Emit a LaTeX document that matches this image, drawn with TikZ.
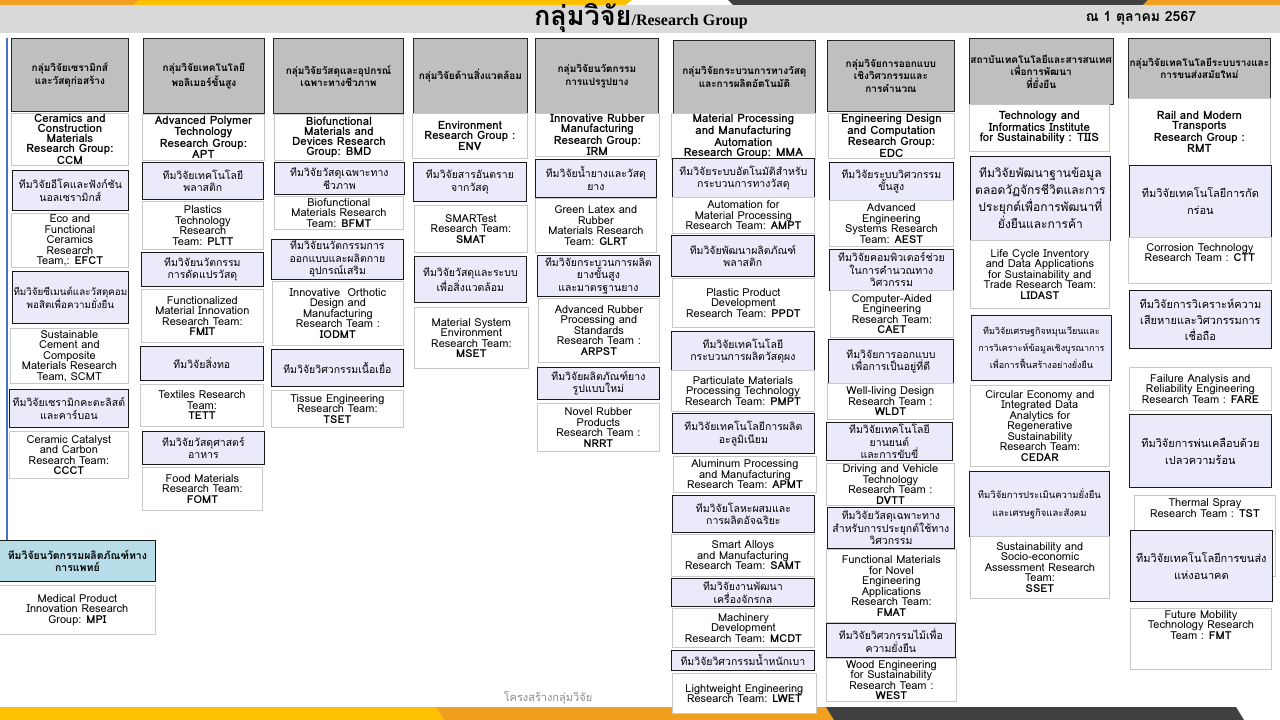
\documentclass[tikz,border=0pt]{standalone}
\usepackage{fontspec}
\newfontfamily\thaif[Script=Thai]{Loma}
\newfontfamily\latf{Loma}
\newfontfamily\serifb{Liberation Serif}
\usetikzlibrary{positioning}
\definecolor{headgray}{RGB}{191,191,191}
\definecolor{lav}{RGB}{234,234,250}
\definecolor{mpiblue}{RGB}{183,222,232}
\definecolor{bandgray}{RGB}{217,217,217}
\definecolor{boxline}{RGB}{200,200,200}
\definecolor{lineblue}{RGB}{68,114,196}
\definecolor{barorange}{RGB}{240,160,30}
\definecolor{baryellow}{RGB}{255,192,0}
\definecolor{bardark}{RGB}{64,64,64}

\begin{document}
\begin{tikzpicture}[x=1pt, y=-1pt,
    sz/.style 2 args={minimum width=#1pt, minimum height=#2pt},
    box/.style={rectangle, anchor=north west, align=center, inner sep=1pt, line width=0.8pt},
    head/.style={box, draw=black!85, fill=headgray, font=\thaif\bfseries\fontsize{10}{12.5}\selectfont},
    grp/.style={box, draw=boxline, fill=white, font=\latf\bfseries\fontsize{11.5}{10}\selectfont},
    team/.style={box, draw=black!90, fill=lav, font=\thaif\fontsize{10.5}{12.5}\selectfont},
    eng/.style={box, draw=boxline, fill=white, font=\latf\fontsize{11}{10.5}\selectfont},
  ]
    \useasboundingbox (0,0) rectangle (1280,720);
    \fill[white] (0,0) rectangle (1280,720);

    % top strip and title band
    \fill[barorange] (0,0) -- (140,0) -- (132,6) -- (0,6) -- cycle;
    \fill[baryellow] (140,0) -- (632,0) -- (624,6) -- (132,6) -- cycle;
    \fill[bardark] (728,0) -- (1148,0) -- (1142,6) -- (734,6) -- cycle;
    \fill[barorange] (1148,0) -- (1280,0) -- (1280,6) -- (1142,6) -- cycle;
    \fill[bandgray] (0,5) rectangle (1280,33);
    \node (title) at (641,18) {{\thaif\bfseries\fontsize{27}{27}\selectfont กลุ่มวิจัย}{\serifb\bfseries\fontsize{16}{16}\selectfont /Research Group}};
    \node[font=\thaif\bfseries\fontsize{14}{14}\selectfont] (date) at (1141,18) {ณ 1 ตุลาคม 2567};

    % bottom strip
    \fill[baryellow] (0,707) -- (436,707) -- (444,720) -- (0,720) -- cycle;
    \fill[barorange] (436,707) -- (826,707) -- (834,720) -- (444,720) -- cycle;
    \fill[bardark] (826,707) -- (1236,707) -- (1244,720) -- (834,720) -- cycle;
    \node[font=\thaif\fontsize{11}{11}\selectfont, text=black!45] (foot) at (548,698) {โครงสร้างกลุ่มวิจัย};

    % ceramics
    \node[head, sz={117}{73}] (h1) at (11,38) {กลุ่มวิจัยเซรามิกส์\\และวัสดุก่อสร้าง};
    \node[grp, sz={117}{50}] (g1) at (11,113) {Ceramics and\\Construction\\Materials\\Research Group:\\CCM};
    \node[team, sz={116}{40}] (efctth) at (12,170) {ทีมวิจัยอีโคและฟังก์ชัน\\นอลเซรามิกส์};
    \node[eng, sz={117}{54}] (efct) at (11,213) {Eco and\\Functional\\Ceramics\\Research\\Team,: \textbf{EFCT}};
    \node[team, font=\thaif\fontsize{9.8}{13}\selectfont, sz={116}{52}] (scmtth) at (12,271) {ทีมวิจัยซีเมนต์และวัสดุคอม\\พอสิตเพื่อความยั่งยืน};
    \node[eng, sz={118}{55}] (scmt) at (10,328) {Sustainable\\Cement and\\Composite\\Materials Research\\Team, SCMT};
    \node[team, sz={119}{38}] (ccctth) at (9,389) {ทีมวิจัยเซรามิกคะตะลิสต์\\และคาร์บอน};
    \node[eng, sz={119}{47}] (ccct) at (9,431) {Ceramic Catalyst\\and Carbon\\Research Team:\\\textbf{CCCT}};
    \node[team, fill=mpiblue, font=\thaif\bfseries\fontsize{10.5}{12.5}\selectfont, sz={156}{41}] (mpith) at (-1,540) {ทีมวิจัยนวัตกรรมผลิตภัณฑ์ทาง\\การแพทย์};
    \node[eng, sz={156}{49}] (mpi) at (-1,585) {Medical Product\\Innovation Research\\Group: \textbf{MPI}};
    \coordinate (ltop) at (7,38);
    \draw[lineblue, line width=2pt] (ltop) -- (ltop |- mpith.north);

    % polymer
    \node[head, sz={121}{75}] (h2) at (143,38) {กลุ่มวิจัยเทคโนโลยี\\พอลิเมอร์ขั้นสูง};
    \node[grp, sz={122}{46}] (g2) at (142,114) {Advanced Polymer\\Technology\\Research Group:\\APT};
    \node[team, sz={121}{37}] (plttth) at (142,162) {ทีมวิจัยเทคโนโลยี\\พลาสติก};
    \node[eng, sz={121}{48}] (pltt) at (142,201) {Plastics\\Technology\\Research\\Team: \textbf{PLTT}};
    \node[team, sz={122}{34}] (fmitth) at (141,252) {ทีมวิจัยนวัตกรรม\\การดัดแปรวัสดุ};
    \node[eng, sz={122}{53}] (fmit) at (141,289) {Functionalized\\Material Innovation\\Research Team:\\\textbf{FMIT}};
    \node[team, sz={123}{34}] (tettth) at (140,346) {ทีมวิจัยสิ่งทอ};
    \node[eng, sz={123}{42}] (tett) at (140,384) {Textiles Research\\Team:\\\textbf{TETT}};
    \node[team, sz={122}{33}] (fomtth) at (142,431) {ทีมวิจัยวัสดุศาสตร์\\อาหาร};
    \node[eng, sz={120}{43}] (fomt) at (142,467) {Food Materials\\Research Team:\\\textbf{FOMT}};

    % biofunctional
    \node[head, sz={130}{75}] (h3) at (273,38) {กลุ่มวิจัยวัสดุและอุปกรณ์\\เฉพาะทางชีวภาพ};
    \node[grp, sz={129}{46}] (g3) at (274,114) {Biofunctional\\Materials and\\Devices Research\\Group: BMD};
    \node[team, sz={130}{32}] (bfmtth) at (274,162) {ทีมวิจัยวัสดุเฉพาะทาง\\ชีวภาพ};
    \node[eng, sz={129}{33}] (bfmt) at (274,196) {Biofunctional\\Materials Research\\Team: \textbf{BFMT}};
    \node[team, sz={132}{40}] (iodmtth) at (271,239) {ทีมวิจัยนวัตกรรมการ\\ออกแบบและผลิตกาย\\อุปกรณ์เสริม};
    \node[eng, sz={131}{64}] (iodmt) at (272,281) {Innovative~~Orthotic\\Design and\\Manufacturing\\Research Team :\\\textbf{IODMT}};
    \node[team, sz={132}{37}] (tsetth) at (271,349) {ทีมวิจัยวิศวกรรมเนื้อเยื่อ};
    \node[eng, sz={132}{37}] (tset) at (271,390) {Tissue Engineering\\Research Team:\\\textbf{TSET}};

    % environment
    \node[head, sz={114}{75}] (h4) at (413,38) {กลุ่มวิจัยด้านสิ่งแวดล้อม};
    \node[grp, sz={115}{45}] (g4) at (412,113) {Environment\\Research Group :\\ENV};
    \node[team, sz={113}{39}] (smatth) at (413,162) {ทีมวิจัยสารอันตราย\\จากวัสดุ};
    \node[eng, sz={113}{47}] (smat) at (414,205) {SMARTest\\Research Team:\\\textbf{SMAT}};
    \node[team, sz={112}{46}] (msetth) at (414,256) {ทีมวิจัยวัสดุและระบบ\\เพื่อสิ่งแวดล้อม};
    \node[eng, sz={114}{61}] (mset) at (414,307) {Material System\\Environment\\Research Team:\\\textbf{MSET}};

    % rubber
    \node[head, sz={123}{75}] (h5) at (535,38) {กลุ่มวิจัยนวัตกรรม\\การแปรรูปยาง};
    \node[grp, sz={124}{40}] (g5) at (535,113) {Innovative Rubber\\Manufacturing\\Research Group:\\IRM};
    \node[team, sz={121}{38}] (glrtth) at (535,159) {ทีมวิจัยน้ำยางและวัสดุ\\ยาง};
    \node[eng, sz={121}{54}] (glrt) at (535,198) {Green Latex and\\Rubber\\Materials Research\\Team: \textbf{GLRT}};
    \node[team, sz={122}{41}] (arpstth) at (537,255) {ทีมวิจัยกระบวนการผลิต\\ยางขั้นสูง\\และมาตรฐานยาง};
    \node[eng, sz={121}{64}] (arpst) at (538,298) {Advanced Rubber\\Processing and\\Standards\\Research Team :\\\textbf{ARPST}};
    \node[team, sz={122}{32}] (nrrtth) at (537,367) {ทีมวิจัยผลิตภัณฑ์ยาง\\รูปแบบใหม่};
    \node[eng, sz={122}{48}] (nrrt) at (537,403) {Novel Rubber\\Products\\Research Team :\\\textbf{NRRT}};

    % processing and automation
    \node[head, sz={142}{73}] (h6) at (673,40) {กลุ่มวิจัยกระบวนการทางวัสดุ\\และการผลิตอัตโนมัติ};
    \node[grp, sz={144}{42}] (g6) at (671,113) {Material Processing\\and Manufacturing\\Automation\\Research Group: MMA};
    \node[team, sz={142}{39}] (ampttth) at (672,158) {ทีมวิจัยระบบอัตโนมัติสำหรับ\\กระบวนการทางวัสดุ};
    \node[eng, sz={142}{36}] (ampt) at (672,197) {Automation for\\Material Processing\\Research Team: \textbf{AMPT}};
    \node[team, sz={143}{41}] (ppdtth) at (671,235) {ทีมวิจัยพัฒนาผลิตภัณฑ์\\พลาสติก};
    \node[eng, sz={142}{49}] (ppdt) at (672,278) {Plastic Product\\Development\\Research Team: \textbf{PPDT}};
    \node[team, sz={143}{39}] (pmptth) at (671,331) {ทีมวิจัยเทคโนโลยี\\กระบวนการผลิตวัสดุผง};
    \node[eng, sz={143}{41}] (pmpt) at (671,370) {Particulate Materials\\Processing Technology\\Research Team: \textbf{PMPT}};
    \node[team, sz={142}{40}] (apmtth) at (672,413) {ทีมวิจัยเทคโนโลยีการผลิต\\อะลูมิเนียม};
    \node[eng, sz={143}{36}] (apmt) at (673,456) {Aluminum Processing\\and Manufacturing\\Research Team: \textbf{APMT}};
    \node[team, sz={142}{37}] (samtth) at (672,495) {ทีมวิจัยโลหะผสมและ\\การผลิตอัจฉริยะ};
    \node[eng, sz={143}{42}] (samt) at (671,534) {Smart Alloys\\and Manufacturing\\Research Team: \textbf{SAMT}};
    \node[team, sz={143}{28}] (mcdtth) at (671,578) {ทีมวิจัยงานพัฒนา\\เครื่องจักรกล};
    \node[eng, sz={142}{39}] (mcdt) at (672,608) {Machinery\\Development\\Research Team: \textbf{MCDT}};
    \node[team, sz={143}{20}] (lwetth) at (671,650) {ทีมวิจัยวิศวกรรมน้ำหนักเบา};
    \node[eng, sz={144}{40}] (lwet) at (672,673) {Lightweight Engineering\\Research Team: \textbf{LWET}};

    % design and computation
    \node[head, sz={127}{71}] (h7) at (827,40) {กลุ่มวิจัยการออกแบบ\\เชิงวิศวกรรมและ\\การคำนวณ};
    \node[grp, sz={126}{44}] (g7) at (828,113) {Engineering Design\\and Computation\\Research Group:\\EDC};
    \node[team, sz={124}{38}] (aestth) at (829,162) {ทีมวิจัยระบบวิศวกรรม\\ขั้นสูง};
    \node[eng, sz={124}{46}] (aest) at (829,200) {Advanced\\Engineering\\Systems Research\\Team: \textbf{AEST}};
    \node[team, sz={124}{41}] (caetth) at (829,249) {ทีมวิจัยคอมพิวเตอร์ช่วย\\ในการคำนวณทาง\\วิศวกรรม};
    \node[eng, sz={123}{47}] (caet) at (830,290) {Computer-Aided\\Engineering\\Research Team:\\\textbf{CAET}};
    \node[team, sz={125}{44}] (wldtth) at (828,339) {ทีมวิจัยการออกแบบ\\เพื่อการเป็นอยู่ที่ดี};
    \node[eng, sz={126}{36}] (wldt) at (827,383) {Well-living Design\\Research Team :\\\textbf{WLDT}};
    \node[team, sz={126}{38}] (dvttth) at (826,422) {ทีมวิจัยเทคโนโลยี\\ยานยนต์\\และการขับขี่};
    \node[eng, sz={128}{42}] (dvtt) at (826,463) {Driving and Vehicle\\Technology\\Research Team :\\\textbf{DVTT}};
    \node[team, sz={127}{41}] (fmatth) at (827,507) {ทีมวิจัยวัสดุเฉพาะทาง\\สำหรับการประยุกต์ใช้ทาง\\วิศวกรรม};
    \node[eng, sz={130}{73}] (fmat) at (826,549) {Functional Materials\\for Novel\\Engineering\\Applications\\Research Team:\\\textbf{FMAT}};
    \node[team, sz={129}{34}] (westth) at (826,623) {ทีมวิจัยวิศวกรรมไม้เพื่อ\\ความยั่งยืน};
    \node[eng, sz={130}{43}] (west) at (826,658) {Wood Engineering\\for Sustainability\\Research Team :\\\textbf{WEST}};

    % sustainability institute
    \node[head, sz={139}{66}] (h8) at (969,38) {สถาบันเทคโนโลยีและสารสนเทศ\\เพื่อการพัฒนา\\ที่ยั่งยืน};
    \node[grp, sz={140}{47}] (g8) at (969,104) {Technology and\\Informatics Institute\\for Sustainability : TIIS};
    \node[team, font=\thaif\fontsize{12}{17}\selectfont, sz={140}{84}] (lidastth) at (970,156) {ทีมวิจัยพัฒนาฐานข้อมูล\\ตลอดวัฏจักรชีวิตและการ\\ประยุกต์เพื่อการพัฒนาที่\\ยั่งยืนและการค้า};
    \node[eng, sz={139}{68}] (lidast) at (970,240) {Life Cycle Inventory\\and Data Applications\\for Sustainability and\\Trade Research Team:\\\textbf{LIDAST}};
    \node[team, font=\thaif\fontsize{9}{17}\selectfont, sz={140}{65}] (cedarth) at (971,315) {ทีมวิจัยเศรษฐกิจหมุนเวียนและ\\การวิเคราะห์ข้อมูลเชิงบูรณาการ\\เพื่อการฟื้นสร้างอย่างยั่งยืน};
    \node[eng, sz={139}{81}] (cedar) at (970,385) {Circular Economy and\\Integrated Data\\Analytics for\\Regenerative\\Sustainability\\Research Team:\\\textbf{CEDAR}};
    \node[team, font=\thaif\fontsize{9.5}{18}\selectfont, sz={140}{65}] (ssetth) at (969,471) {ทีมวิจัยการประเมินความยั่งยืน\\และเศรษฐกิจและสังคม};
    \node[eng, sz={139}{62}] (sset) at (970,536) {Sustainability and\\Socio-economic\\Assessment Research\\Team:\\\textbf{SSET}};

    % rail and transport
    \node[head, sz={142}{60}] (h9) at (1128,38) {กลุ่มวิจัยเทคโนโลยีระบบรางและ\\การขนส่งสมัยใหม่};
    \node[grp, sz={142}{67}] (g9) at (1128,98) {Rail and Modern\\Transports\\Research Group :\\RMT};
    \node[team, font=\thaif\fontsize{11}{17}\selectfont, sz={142}{72}] (cttth) at (1129,165) {ทีมวิจัยเทคโนโลยีการกัด\\กร่อน};
    \node[eng, text depth=16pt, sz={143}{46}] (ctt) at (1128,237) {Corrosion Technology\\Research Team : \textbf{CTT}};
    \node[team, font=\thaif\fontsize{11}{16}\selectfont, sz={142}{58}] (fareth) at (1129,290) {ทีมวิจัยการวิเคราะห์ความ\\เสียหายและวิศวกรรมการ\\เชื่อถือ};
    \node[eng, sz={142}{43}] (fare) at (1129,367) {Failure Analysis and\\Reliability Engineering\\Research Team : \textbf{FARE}};
    \node[team, font=\thaif\fontsize{11}{17}\selectfont, sz={142}{73}] (tstth) at (1129,414) {ทีมวิจัยการพ่นเคลือบด้วย\\เปลวความร้อน};
    \node[eng, text depth=56pt, sz={141}{81}] (tst) at (1134,495) {Thermal Spray\\Research Team : \textbf{TST}};
    \node[team, font=\thaif\fontsize{11}{17}\selectfont, sz={142}{71}] (fmtth) at (1130,530) {ทีมวิจัยเทคโนโลยีการขนส่ง\\แห่งอนาคต};
    \node[eng, text depth=28pt, sz={141}{61}] (fmt) at (1130,608) {Future Mobility\\Technology Research\\Team : \textbf{FMT}};
\end{tikzpicture}
\end{document}
